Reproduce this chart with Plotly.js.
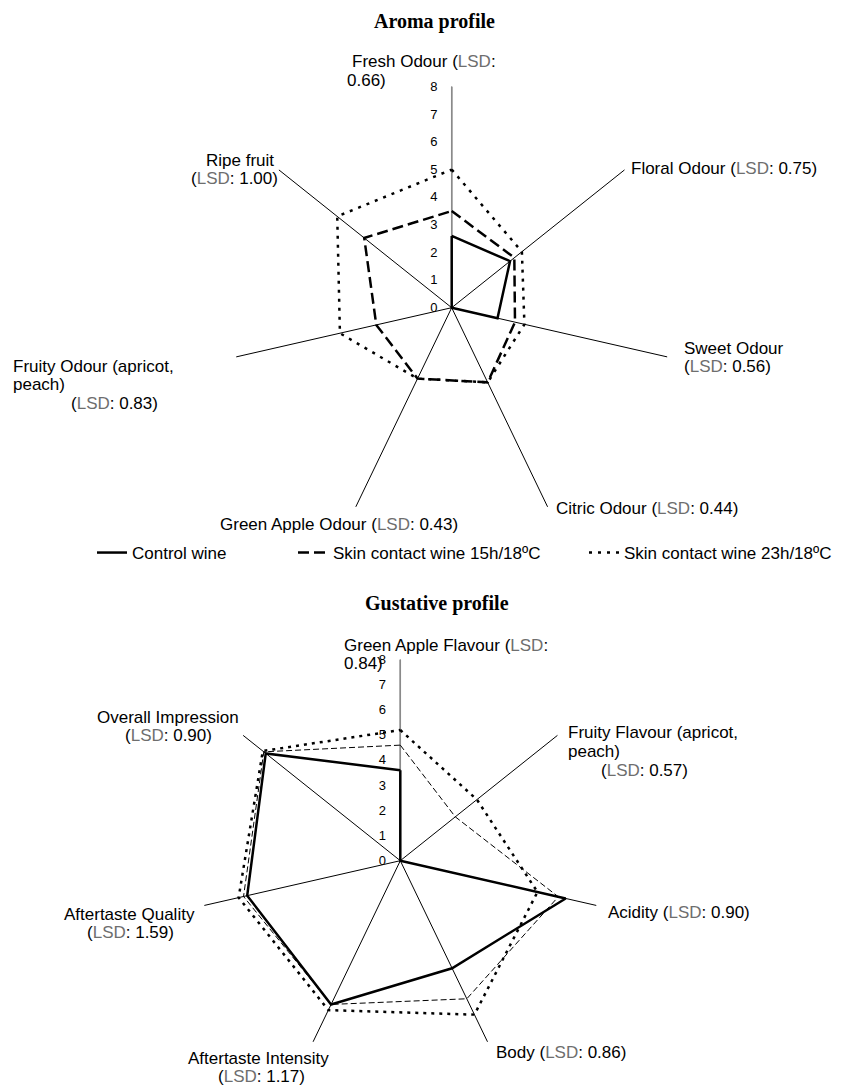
<!DOCTYPE html>
<html>
<head>
<meta charset="utf-8">
<script src="https://cdn.plot.ly/plotly-3.0.1.min.js"></script>
<style>html,body{margin:0;padding:0;background:#fff;}#chart{width:843px;height:1086px;}</style>
</head>
<body>
<div id="chart"></div>
<script>
// ---------------- DATA ----------------
const seriesNames = ['Control wine', 'Skin contact wine 15h/18ºC', 'Skin contact wine 23h/18ºC'];

const aromaCategories = ['Fresh Odour', 'Floral Odour', 'Sweet Odour', 'Citric Odour', 'Green Apple Odour', 'Fruity Odour (apricot, peach)', 'Ripe fruit'];
const aromaLSD = ['0.66', '0.75', '0.56', '0.44', '0.43', '0.83', '1.00'];
const aromaControl = [2.6, 2.7, 1.7, 0, 0, 0, 0];
const aroma15h = [3.5, 2.9, 2.35, 3.0, 2.85, 2.8, 4.05];
const aroma23h = [5.0, 3.25, 2.7, 3.0, 2.85, 4.15, 5.3];

const gustCategories = ['Green Apple Flavour', 'Fruity Flavour (apricot, peach)', 'Acidity', 'Body', 'Aftertaste Intensity', 'Aftertaste Quality', 'Overall Impression'];
const gustLSD = ['0.84', '0.57', '0.90', '0.86', '1.17', '1.59', '0.90'];
const gustControl = [3.6, 0, 6.75, 4.75, 6.35, 6.25, 6.85];
const gust15h = [4.6, 2.8, 6.45, 6.1, 6.35, 6.4, 6.95];
const gust23h = [5.2, 3.9, 5.6, 6.8, 6.6, 6.6, 7.0];

const radialTicks = [0, 1, 2, 3, 4, 5, 6, 7, 8];

// ---------------- LAYOUT HELPERS ----------------
const W = 843, H = 1086;
const px = x => x / W;
const py = y => 1 - y / H;
const LSD = '<span style="color:#6e6e6e">LSD</span>';
const FONT = 'Liberation Sans, Arial, Helvetica, sans-serif';

function closed(arr) { return arr.concat([arr[0]]); }

const styles = {
  aroma: [
    {color: '#000', width: 2.5, dash: 'solid'},
    {color: '#000', width: 2.5, dash: '11px,5px'},
    {color: '#000', width: 2.5, dash: '3px,6px'}
  ],
  gust: [
    {color: '#000', width: 2.5, dash: 'solid'},
    {color: '#000', width: 1, dash: '6px,3px'},
    {color: '#000', width: 2.5, dash: '3px,5px'}
  ]
};

const traces = [];
const aromaSeries = [aromaControl, aroma15h, aroma23h];
const gustSeries = [gustControl, gust15h, gust23h];
const legendIds = ['legend', 'legend2', 'legend3'];
aromaSeries.forEach((vals, i) => {
  traces.push({
    type: 'scatterpolar', subplot: 'polar', mode: 'lines',
    r: closed(vals), theta: closed(aromaCategories),
    name: seriesNames[i], legend: legendIds[i],
    line: styles.aroma[i], hoverinfo: 'skip', cliponaxis: false
  });
});
gustSeries.forEach((vals, i) => {
  traces.push({
    type: 'scatterpolar', subplot: 'polar2', mode: 'lines',
    r: closed(vals), theta: closed(gustCategories),
    name: seriesNames[i], showlegend: false,
    line: styles.gust[i], hoverinfo: 'skip', cliponaxis: false
  });
});

function polarCfg(cats, domainX, domainY) {
  return {
    domain: {x: domainX, y: domainY},
    bgcolor: 'rgba(0,0,0,0)',
    angularaxis: {
      type: 'category', categoryarray: cats, rotation: 90, direction: 'clockwise',
      showline: false, showticklabels: false, ticks: '',
      showgrid: true, gridcolor: '#000', gridwidth: 1
    },
    radialaxis: {
      range: [0, 8], tickvals: radialTicks, ticktext: radialTicks.map(String),
      showgrid: false, showline: true, linecolor: '#8a8a8a', linewidth: 1.5,
      angle: 90, tickangle: 90, side: 'counterclockwise',
      ticks: 'outside', ticklen: 9, tickcolor: 'rgba(0,0,0,0)',
      tickfont: {family: FONT, size: 13, color: '#000'},
      layer: 'below traces'
    }
  };
}

// label lines: [left x, baseline y, text]
const labelLines = [
  [351, 67, `${aromaCategories[0]} (${LSD}:`],
  [346, 86, `${aromaLSD[0]})`],
  [630, 174, `${aromaCategories[1]} (${LSD}: ${aromaLSD[1]})`],
  [683, 354, aromaCategories[2]],
  [683, 372, `(${LSD}: ${aromaLSD[2]})`],
  [555, 514, `${aromaCategories[3]} (${LSD}: ${aromaLSD[3]})`],
  [219, 531, `${aromaCategories[4]} (${LSD}: ${aromaLSD[4]})`],
  [12, 372, 'Fruity Odour (apricot,'],
  [12, 390, 'peach)'],
  [70, 410, `(${LSD}: ${aromaLSD[5]})`],
  [205, 166, aromaCategories[6]],
  [190, 184, `(${LSD}: ${aromaLSD[6]})`],

  [343, 651, `${gustCategories[0]} (${LSD}:`],
  [343, 669, `${gustLSD[0]})`],
  [567, 738, 'Fruity Flavour (apricot,'],
  [567, 757, 'peach)'],
  [600, 776, `(${LSD}: ${gustLSD[1]})`],
  [607, 918, `${gustCategories[2]} (${LSD}: ${gustLSD[2]})`],
  [495, 1058, `${gustCategories[3]} (${LSD}: ${gustLSD[3]})`],
  [187, 1064, gustCategories[4]],
  [217, 1082, `(${LSD}: ${gustLSD[4]})`],
  [63, 920, gustCategories[5]],
  [86, 938, `(${LSD}: ${gustLSD[5]})`],
  [96, 723, gustCategories[6]],
  [124, 741, `(${LSD}: ${gustLSD[6]})`]
];

const annotations = labelLines.map(([x, y, t]) => ({
  xref: 'paper', yref: 'paper', x: px(x), y: py(y - 6),
  xanchor: 'left', yanchor: 'middle', showarrow: false, align: 'left',
  text: t, font: {family: FONT, size: 17, color: '#000'}, borderpad: 0
}));

annotations.push({
  xref: 'paper', yref: 'paper', x: px(434), y: py(22), xanchor: 'center', yanchor: 'middle',
  showarrow: false, text: '<b>Aroma profile</b>',
  font: {family: 'Liberation Serif, Times New Roman, serif', size: 20, color: '#000'}
});
annotations.push({
  xref: 'paper', yref: 'paper', x: px(437), y: py(603), xanchor: 'center', yanchor: 'middle',
  showarrow: false, text: '<b>Gustative profile</b>',
  font: {family: 'Liberation Serif, Times New Roman, serif', size: 20, color: '#000'}
});

function legendCfg(leftPx) {
  return {
    x: px(leftPx), y: py(553), xanchor: 'left', yanchor: 'middle',
    orientation: 'h', bgcolor: 'rgba(0,0,0,0)', borderwidth: 0,
    font: {family: FONT, size: 17, color: '#000'}, itemwidth: 30
  };
}

const layout = {
  width: W, height: H,
  margin: {l: 0, r: 0, t: 0, b: 0},
  paper_bgcolor: '#fff', plot_bgcolor: '#fff',
  showlegend: true,
  polar: polarCfg(aromaCategories, [230.7 / W, 672.7 / W], [py(528.7), py(86.7)]),
  polar2: polarCfg(gustCategories, [199.3 / W, 601.3 / W], [py(1061.7), py(659.7)]),
  legend: legendCfg(92),
  legend2: legendCfg(293),
  legend3: legendCfg(584),
  annotations: annotations
};

Plotly.newPlot('chart', traces, layout, {staticPlot: true, displayModeBar: false});
</script>
</body>
</html>
